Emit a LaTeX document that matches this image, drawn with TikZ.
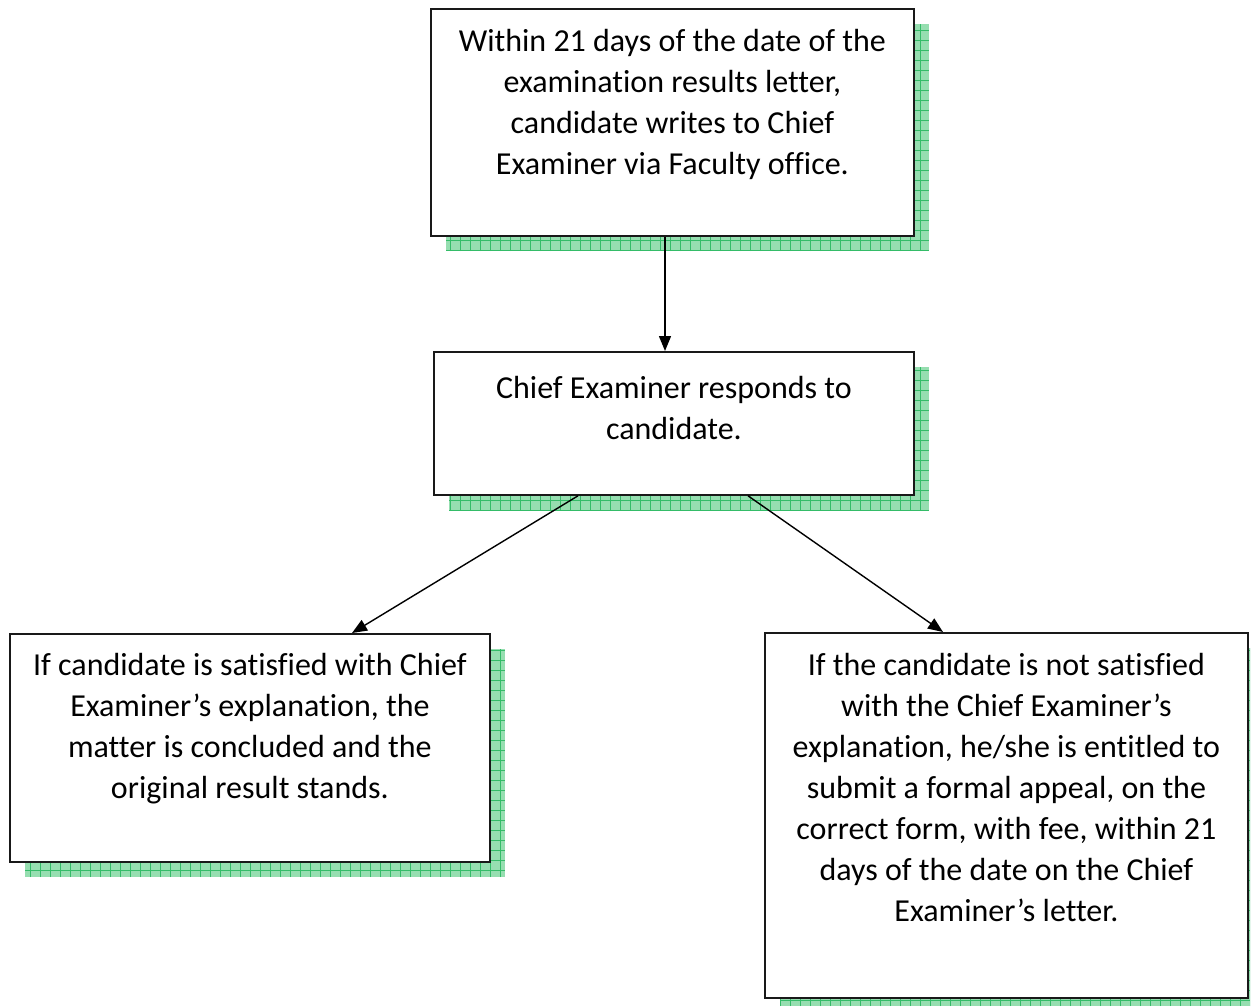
\documentclass[tikz,border=0pt]{standalone}
\usepackage{fontspec}
\setmainfont{Carlito}[Ligatures={NoCommon}]
\usetikzlibrary{arrows.meta,calc}
\definecolor{shfill}{RGB}{150,222,176}
\definecolor{shline}{RGB}{52,188,104}
\tikzset{
  x=1pt,y=-1pt,
  box/.style={draw=black!90,line width=1.8pt,fill=white,rectangle,inner sep=0pt,anchor=north west},
  txt/.style={align=center,inner sep=0pt,anchor=north,font=\fontsize{32}{41}\selectfont},
  conn/.style={line width=1.4pt,-{Triangle[length=15pt,width=12pt]}}
}
\newcommand{\gridshadow}[4]{%
  \begin{scope}
    \clip (#1,#2) rectangle (#3,#4);
    \fill[shfill] (#1,#2) rectangle (#3,#4);
    \draw[shline,line width=0.5pt,step=10pt] (#1,#2) grid (#3,#4);
  \end{scope}}
\begin{document}
\begin{tikzpicture}
\useasboundingbox[fill=white] (0,0) rectangle (1252,1006);
% shadows
\gridshadow{446}{24}{929}{251}
\gridshadow{449}{367}{929}{510}
\gridshadow{25}{649}{505}{877}
\gridshadow{780}{648}{1250}{1006}
% boxes
\node[box,minimum width=483pt,minimum height=227pt] (b1) at (430,8) {};
\node[box,minimum width=480pt,minimum height=143pt] (b2) at (433,351) {};
\node[box,minimum width=480pt,minimum height=228pt] (b3) at (9,633) {};
\node[box,minimum width=483pt,minimum height=365pt] (b4) at (764,632) {};
% texts
\node[txt] (t1) at ($(b1.north)+(0,15)$) {\strut Within 21 days of the date of the\\examination results letter,\\candidate writes to Chief\\Examiner via Faculty office.};
\node[txt] (t2) at ($(b2.north)+(0,19)$) {\strut Chief Examiner responds to\\candidate.};
\node[txt] (t3) at ($(b3.north)+(0,14)$) {\strut If candidate is satisfied with Chief\\Examiner’s explanation, the\\matter is concluded and the\\original result stands.};
\node[txt] (t4) at ($(b4.north)+(0,15)$) {\strut If the candidate is not satisfied\\with the Chief Examiner’s\\explanation, he/she is entitled to\\submit a formal appeal, on the\\correct form, with fee, within 21\\days of the date on the Chief\\Examiner’s letter.};
% connectors
\draw[conn] ($(b1.south west)+(235,0)$) -- ($(b2.north west)+(232,0)$);
\draw[conn] ($(b2.south west)+(145,0)$) -- ($(b3.north west)+(343,0)$);
\draw[conn] ($(b2.south west)+(315,0)$) -- ($(b4.north west)+(179,0)$);
\end{tikzpicture}
\end{document}
